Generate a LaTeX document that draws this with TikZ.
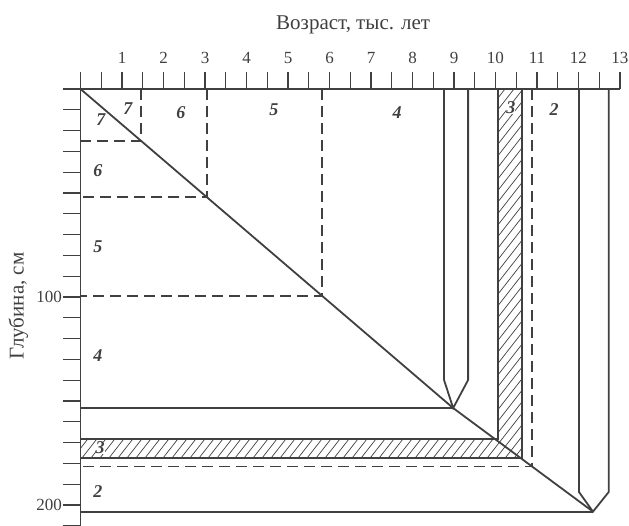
\documentclass[tikz,border=0pt]{standalone}
\usepackage{fontspec}
\setmainfont{Liberation Serif}
\usetikzlibrary{calc}
\definecolor{ink}{HTML}{404040}
\newcommand{\axisfont}{\fontsize{21}{24}\selectfont}
\newcommand{\tickfont}{\fontsize{17}{20}\selectfont}
\newcommand{\layerfont}{\fontsize{18}{21}\selectfont}
\tikzset{
 every node/.append style={text=ink,inner sep=1pt},
 axis/.style={draw=ink,line width=1.5pt},
 tick/.style={draw=ink,line width=1.3pt},
 bound/.style={draw=ink,line width=1.8pt,line join=miter},
 contact/.style={draw=ink,line width=1.8pt,dash pattern=on 11pt off 6pt},
 hatchline/.style={draw=ink,line width=.7pt},
 hatchedge/.style={draw=ink,line width=1.2pt},
 layer/.style={font=\layerfont\bfseries\itshape},
 ticklabel/.style={font=\tickfont},
 title/.style={font=\axisfont},
}

\begin{document}
\begin{tikzpicture}[x=41.5pt,y=-2.08pt]

\useasboundingbox (-1.94,-42.79) rectangle (13.217,210.1);
\coordinate (O) at (0,0);
\coordinate (tipA) at (8.98,153.4);
\coordinate (tipB) at (12.35,203.2);

\begin{scope}
  \clip (0,168.3) -- (10.06,168.3) -- (10.06,0) -- (10.64,0) -- (10.64,177.4) -- (0,177.4) -- cycle;
  \foreach \s in {-0.5,-0.283,...,10.8}
    \draw[hatchline] (\s,180) -- (\s+7.04,0);
\end{scope}
\draw[hatchedge] (0,168.3) -- (10.06,168.3) -- (10.06,0) (10.64,0) -- (10.64,177.4) -- (0,177.4);

\draw[axis] (-0.42,0) -- (13,0);
\draw[axis] (0,-8.2) -- (0,210.1);
\foreach \i in {0,...,26}
  \draw[tick] (\i/2,0) -- (\i/2,-8.2);
\foreach \j in {0,...,21}
  \draw[tick] (0,\j*10) -- (-0.42,\j*10);
\foreach \i in {1,...,13}
  \node[ticklabel] (age\i) at (\i,-14.9) {\i};
\node[ticklabel,anchor=east] (d100) at (-0.42,100) {100};
\node[ticklabel,anchor=east] (d200) at (-0.42,200) {200};
\node[title] (agetitle) at (6.57,-30.8) {Возраст, тыс. лет};
\node[title,rotate=90] (depthtitle) at (-1.5,104.3) {Глубина, см};

\coordinate (c7) at ($(O)!0.1626!(tipA)$);
\coordinate (c6) at ($(O)!0.3396!(tipA)$);
\coordinate (c5) at ($(O)!0.648!(tipA)$);
\coordinate (c2) at ($(tipA)!0.564!(tipB)$);
\foreach \c in {c7,c6,c5,c2}
  \draw[contact] (\c |- O) -- (\c) -- (O |- \c);

\draw[bound] (O) -- (tipA) -- (tipB);
\draw[bound] (O |- tipA) -- (tipA);
\draw[bound] (O |- tipB) -- (tipB);
\draw[bound] (8.76,0) -- (8.76,139.9) -- (tipA) -- (9.34,139.9) -- (9.34,0);
\draw[bound] (12.01,0) -- (12.01,193.7) -- (tipB) -- (12.73,193.7) -- (12.73,0);

\foreach \n/\x/\y in {7/1.14/9.6,6/2.42/11.5,5/4.66/10.1,4/7.63/11.1,2/11.41/10.1}
  \node[layer] (top\n) at (\x,\y) {\n};
\foreach \n/\x/\y in {7/0.49/14.9,6/0.42/39.4,5/0.42/76,4/0.42/128,2/0.42/193.3}
  \node[layer] (left\n) at (\x,\y) {\n};
\node[layer,fill=white,inner sep=0pt] (top3) at (10.37,9.1) {3};
\node[layer,fill=white,inner sep=0pt] (left3) at (0.47,172.6) {3};

\end{tikzpicture}
\end{document}
